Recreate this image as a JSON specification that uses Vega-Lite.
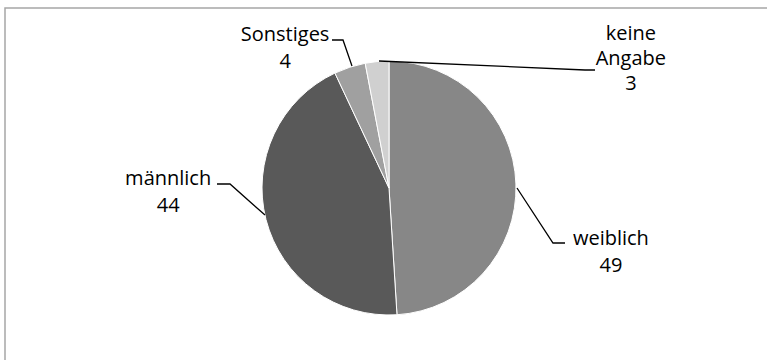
{
  "$schema": "https://vega.github.io/schema/vega-lite/v6.json",
  "autosize": "none",
  "width": 768,
  "height": 360,
  "padding": {"left": 5, "top": 8, "right": 0, "bottom": 0},
  "background": "white",
  "view": {"stroke": "#a6a6a6", "strokeWidth": 1.5},
  "data": {
    "values": [
      {"Nr": 1, "Geschlecht": "weiblich", "Anzahl": 49},
      {"Nr": 2, "Geschlecht": "männlich", "Anzahl": 44},
      {"Nr": 3, "Geschlecht": "Sonstiges", "Anzahl": 4},
      {"Nr": 4, "Geschlecht": "keine Angabe", "Anzahl": 3}
    ]
  },
  "transform": [
    {"stack": "Anzahl", "groupby": [], "sort": [{"field": "Nr", "order": "ascending"}], "as": ["anfang", "ende"]},
    {"calculate": "(datum.anfang + datum.ende) / 2", "as": "mitte"},
    {"calculate": "replace(datum.Geschlecht, ' ', '\\n') + '\\n' + datum.Anzahl", "as": "beschriftung"}
  ],
  "layer": [
    {
      "mark": {"type": "arc", "radius": 127, "stroke": "white", "strokeWidth": 1},
      "encoding": {
        "theta": {"field": "anfang", "type": "quantitative", "scale": {"domain": [0, 100]}},
        "theta2": {"field": "ende"},
        "color": {
          "field": "Geschlecht",
          "type": "nominal",
          "scale": {
            "domain": ["weiblich", "männlich", "Sonstiges", "keine Angabe"],
            "range": ["#878787", "#595959", "#a0a0a0", "#d0d0d0"]
          },
          "legend": null
        }
      }
    },
    {
      "mark": {"type": "point", "filled": false, "color": "black", "strokeWidth": 1.3, "size": 4, "opacity": 1},
      "encoding": {
        "x": {"value": {"expr": "width / 2"}},
        "y": {"value": {"expr": "height / 2"}},
        "shape": {
          "field": "Geschlecht",
          "type": "nominal",
          "scale": {
            "domain": ["weiblich", "männlich", "Sonstiges", "keine Angabe"],
            "range": [
              "M128,0L164,55L176,55",
              "M-124,27L-159,-4L-172,-4",
              "M-37,-122L-46,-148L-57,-148",
              "M-10,-127L196,-118L206,-118"
            ]
          },
          "legend": null
        }
      }
    },
    {
      "transform": [{"filter": "datum.Nr == 1"}],
      "mark": {"type": "text", "radius": 222, "dx": 0, "dy": 64, "align": "center", "baseline": "alphabetic", "lineBreak": "\n", "lineHeight": 27, "font": "Open Sans", "fontSize": 20, "color": "black"},
      "encoding": {
        "theta": {"field": "mitte", "type": "quantitative", "scale": {"domain": [0, 100]}},
        "text": {"field": "beschriftung"}
      }
    },
    {
      "transform": [{"filter": "datum.Nr == 2"}],
      "mark": {"type": "text", "radius": 228, "dx": 0, "dy": -60, "align": "center", "baseline": "alphabetic", "lineBreak": "\n", "lineHeight": 27, "font": "Open Sans", "fontSize": 20, "color": "black"},
      "encoding": {
        "theta": {"field": "mitte", "type": "quantitative", "scale": {"domain": [0, 100]}},
        "text": {"field": "beschriftung"}
      }
    },
    {
      "transform": [{"filter": "datum.Nr == 3"}],
      "mark": {"type": "text", "radius": 155, "dx": -56, "dy": 0, "align": "center", "baseline": "alphabetic", "lineBreak": "\n", "lineHeight": 27, "font": "Open Sans", "fontSize": 20, "color": "black"},
      "encoding": {
        "theta": {"field": "mitte", "type": "quantitative", "scale": {"domain": [0, 100]}},
        "text": {"field": "beschriftung"}
      }
    },
    {
      "transform": [{"filter": "datum.Nr == 4"}],
      "mark": {"type": "text", "radius": 150, "dx": 256, "dy": 1, "align": "center", "baseline": "alphabetic", "lineBreak": "\n", "lineHeight": 25, "font": "Open Sans", "fontSize": 20, "color": "black"},
      "encoding": {
        "theta": {"field": "mitte", "type": "quantitative", "scale": {"domain": [0, 100]}},
        "text": {"field": "beschriftung"}
      }
    }
  ]
}
